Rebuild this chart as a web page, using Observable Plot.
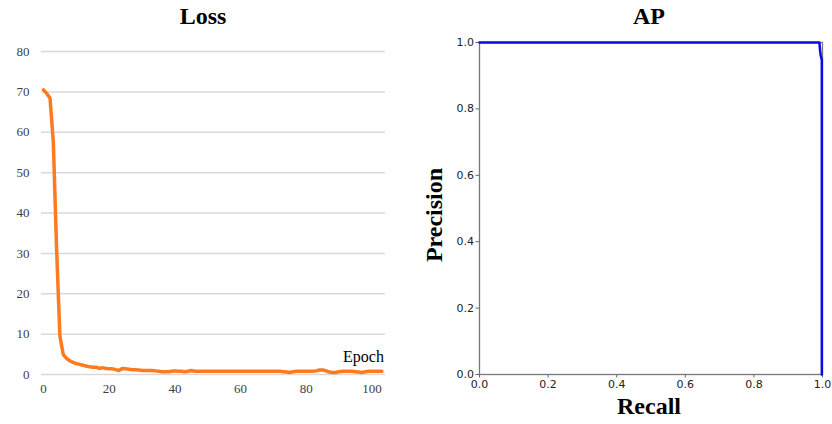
<!DOCTYPE html>
<html>
<head>
<meta charset="utf-8">
<script src="https://cdn.jsdelivr.net/npm/d3@7"></script>
<script src="https://cdn.jsdelivr.net/npm/@observablehq/plot@0.6"></script>
<style>
  body { margin: 0; background: #fff; }
  #wrap { position: relative; width: 832px; height: 424px; overflow: hidden; background: #fff; }
  .panel { position: absolute; top: 0; width: 416px; height: 424px; }
  .lbl { position: absolute; font-family: "Liberation Serif", "Times New Roman", serif; color: #000; white-space: nowrap; }
</style>
</head>
<body>
<div id="wrap">
  <div id="left" class="panel" style="left:0"></div>
  <div id="right" class="panel" style="left:416px"></div>
  <div class="lbl" style="left:0;width:406px;top:3px;text-align:center;font-size:24px;font-weight:bold;">Loss</div>
  <div class="lbl" style="left:416px;width:466px;top:3px;text-align:center;font-size:24px;font-weight:bold;">AP</div>
  <div class="lbl" style="left:343px;top:348px;font-size:16px;">Epoch</div>
  <div class="lbl" style="left:416px;width:466px;top:393px;text-align:center;font-size:24px;font-weight:bold;">Recall</div>
  <div class="lbl" style="left:434px;top:215px;font-size:24px;font-weight:bold;transform:translate(-50%,-50%) rotate(-90deg);">Precision</div>
</div>
<script>
// Loss per epoch
const lossValues = [
  70.5, 69.6, 68.4, 57.5, 31.0, 9.5, 5.0, 4.0, 3.4, 3.0,
  2.7, 2.5, 2.3, 2.1, 1.9, 1.8, 1.8, 1.5, 1.7, 1.5,
  1.4, 1.4, 1.2, 1.0, 1.5, 1.4, 1.3, 1.2, 1.2, 1.1,
  1.0, 1.0, 1.0, 1.0, 0.9, 0.8, 0.7, 0.7, 0.7, 0.8,
  0.9, 0.8, 0.8, 0.7, 0.8, 1.0, 0.8, 0.8, 0.8, 0.8,
  0.8, 0.8, 0.8, 0.8, 0.8, 0.8, 0.8, 0.8, 0.8, 0.8,
  0.8, 0.8, 0.8, 0.8, 0.8, 0.8, 0.8, 0.8, 0.8, 0.8,
  0.8, 0.8, 0.8, 0.7, 0.6, 0.5, 0.7, 0.8, 0.8, 0.8,
  0.8, 0.8, 0.8, 0.9, 1.1, 1.1, 0.9, 0.6, 0.5, 0.5,
  0.7, 0.8, 0.8, 0.8, 0.8, 0.7, 0.6, 0.5, 0.7, 0.8,
  0.8, 0.8, 0.8, 0.8
];
const lossTicksY = [0, 10, 20, 30, 40, 50, 60, 70, 80];
const lossTicksX = [0, 20, 40, 60, 80, 100];

// Precision-Recall curve
const recall    = [0.0, 0.991, 0.993, 0.995, 0.997, 0.998, 0.998];
const precision = [1.0, 1.0,   0.975, 0.96,  0.95,  0.95,  0.0];
const prTicks = [0.0, 0.2, 0.4, 0.6, 0.8, 1.0];

const lossData = lossValues.map((v, i) => ({epoch: i, loss: v}));
const prData = recall.map((r, i) => ({recall: r, precision: precision[i]}));

const left = Plot.plot({
  width: 416, height: 424,
  marginTop: 51, marginBottom: 50, marginLeft: 41, marginRight: 31,
  style: {fontFamily: "'Liberation Serif', serif", fontSize: "13px", color: "#404040", background: "transparent"},
  x: {domain: [-0.6, 104.1], ticks: lossTicksX, tickSize: 0, tickPadding: 9, label: null},
  y: {domain: [0, 80], ticks: lossTicksY, tickSize: 0, tickPadding: 12, label: null},
  marks: [
    Plot.gridY(lossTicksY, {stroke: "#d9d9d9", strokeOpacity: 1, strokeWidth: 1.5}),
    Plot.axisX({ticks: lossTicksX, tickSize: 0, tickPadding: 9, fontSize: 13}),
    Plot.axisY({ticks: lossTicksY, tickSize: 0, tickPadding: 12, fontSize: 13}),
    Plot.line(lossData, {x: "epoch", y: "loss", stroke: "#ff7a1f", strokeWidth: 3.5, strokeLinejoin: "round"})
  ]
});
document.getElementById("left").appendChild(left);

const right = Plot.plot({
  width: 416, height: 424,
  marginTop: 42, marginBottom: 50, marginLeft: 63, marginRight: 10,
  style: {fontFamily: "'DejaVu Sans', sans-serif", fontSize: "11px", color: "#222", background: "transparent"},
  x: {domain: [0, 1], ticks: prTicks, tickFormat: d3.format(".1f"), label: null},
  y: {domain: [0, 1], ticks: prTicks, tickFormat: d3.format(".1f"), label: null},
  marks: [
    Plot.axisX({ticks: prTicks, tickFormat: d3.format(".1f"), tickSize: 3.5, tickPadding: 2, stroke: "#666"}),
    Plot.axisY({ticks: prTicks, tickFormat: d3.format(".1f"), tickSize: 3.5, tickPadding: 2, stroke: "#666"}),
    Plot.frame({stroke: "#777", strokeWidth: 1.3}),
    Plot.line(prData, {x: "recall", y: "precision", stroke: "#0a0ae6", strokeWidth: 2.5})
  ]
});
document.getElementById("right").appendChild(right);
</script>
</body>
</html>
